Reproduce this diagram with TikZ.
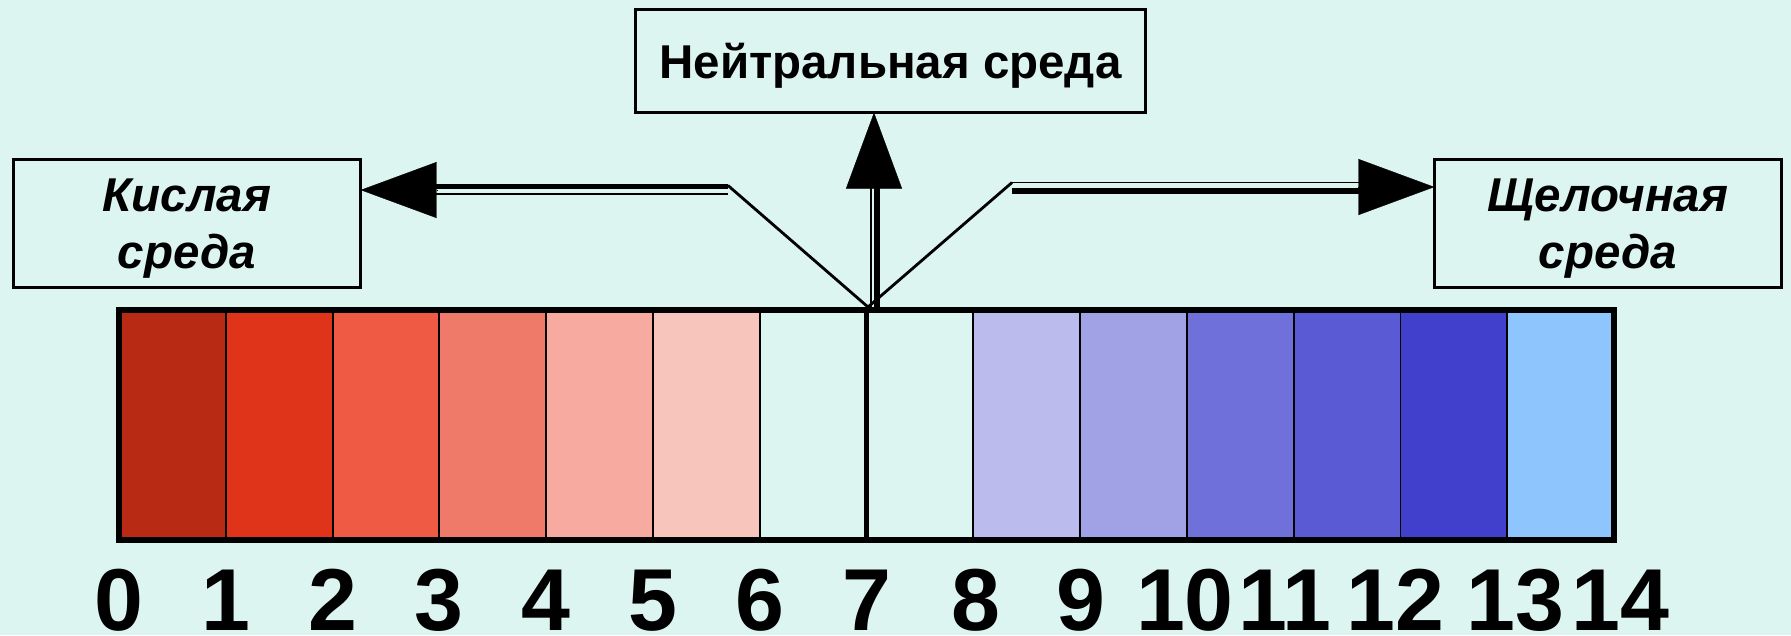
\documentclass[tikz,border=0pt]{standalone}
\usepackage{fontspec}
\setmainfont{Liberation Sans}
\usepackage{tikz}
\usetikzlibrary{positioning,arrows.meta}
\usepackage{xcolor}
\definecolor{MintBg}{RGB}{220,245,240}
\definecolor{ph0}{RGB}{185,42,20}
\definecolor{ph1}{RGB}{224,52,26}
\definecolor{ph2}{RGB}{238,90,67}
\definecolor{ph3}{RGB}{240,122,106}
\definecolor{ph4}{RGB}{246,170,160}
\definecolor{ph5}{RGB}{248,197,188}
\definecolor{ph6}{RGB}{220,245,240}
\definecolor{ph7}{RGB}{220,245,240}
\definecolor{ph8}{RGB}{187,187,238}
\definecolor{ph9}{RGB}{161,161,230}
\definecolor{ph10}{RGB}{112,112,219}
\definecolor{ph11}{RGB}{90,90,213}
\definecolor{ph12}{RGB}{64,64,205}
\definecolor{ph13}{RGB}{142,197,252}

\begin{document}
\begin{tikzpicture}[x=0.01cm,y=-0.01cm,every node/.style={inner sep=0pt,outer sep=0pt},
    envbox/.style={draw,line width=0.85pt,minimum width=3.47cm,minimum height=1.27cm,text depth=0pt,
                   align=center,font=\fontsize{13.5pt}{16.2pt}\selectfont\bfseries\itshape},
    neutbox/.style={draw,line width=0.85pt,minimum width=5.09cm,minimum height=1.03cm,text depth=0pt,
                    font=\fontsize{13.5pt}{15pt}\selectfont\bfseries},
    phnum/.style={font=\fontsize{25pt}{30pt}\selectfont\bfseries,anchor=base},
    pointer/.style={line width=0.8pt},
    thickpart/.style={line width=1.45pt},
    thinpart/.style={line width=0.45pt},
    headtip/.style={line width=0.1pt,-{Triangle[length=0.76cm,width=0.56cm]}}]
        \fill[MintBg] (0,0) rectangle (1791,635);
        \useasboundingbox (0,0) rectangle (1791,635);
        % colour scale
        \foreach \i in {0,...,13}
            \fill[ph\i] (119+\i*106.79,310) rectangle (119+\i*106.79+106.79,540);
        \foreach \i in {1,...,6,8,9,...,13}
            \draw[line width=0.55pt] (119+\i*106.79,310) -- (119+\i*106.79,540);
        \draw[line width=1.2pt] (866.5,310) -- (866.5,540);
        \draw[line width=1.45pt] (119,310) rectangle (1614,540);
        \foreach \n/\dx in {0/0,1/0,2/0,3/0,4/0,5/0,6/0,7/0,8/3,9/1,10/-2,11/-9,12/-5,13/8,14/6}
            \node[phnum] (num\n) at (119+\n*106.79+\dx,630) {\n};
        % boxes
        \node[neutbox] (neutral) at (890.5,61) {Нейтральная среда};
        \node[envbox] (acid) at (187,223.5) {Кислая\\среда};
        \node[envbox] (base) at (1608,223.5) {Щелочная\\среда};
        % connectors
        \coordinate (junction) at (868,307);
        \coordinate (leftbend) at (728,190);
        \coordinate (rightbend) at (1012,187);
        \coordinate (upbend) at (874,307);
        \coordinate (acidtip) at (leftbend -| acid.east);
        \coordinate (basetip) at (rightbend -| base.west);
        \coordinate (neuttip) at (upbend |- neutral.south);
        % to the acid box
        \draw[pointer] (junction) -- ([yshift=.045cm]leftbend);
        \draw[thickpart] ([yshift=.035cm]leftbend) -- ([xshift=.7cm,yshift=.035cm]acidtip);
        \draw[thinpart] ([yshift=-.04cm]leftbend) -- ([xshift=.7cm,yshift=-.04cm]acidtip);
        \draw[headtip] ([xshift=.76cm]acidtip) -- (acidtip);
        % to the alkaline box
        \draw[pointer] (junction) -- ([yshift=.045cm]rightbend);
        \draw[thinpart] ([yshift=.045cm]rightbend) -- ([xshift=-.7cm,yshift=.045cm]basetip);
        \draw[thickpart] ([yshift=-.04cm]rightbend) -- ([xshift=-.7cm,yshift=-.04cm]basetip);
        \draw[headtip] ([xshift=-.76cm]basetip) -- (basetip);
        % to the neutral box
        \draw[thinpart] ([xshift=-.03cm]upbend) -- ([xshift=-.03cm,yshift=-.7cm]neuttip);
        \draw[thickpart] ([xshift=.03cm]upbend) -- ([xshift=.03cm,yshift=-.7cm]neuttip);
        \draw[headtip] ([yshift=-.76cm]neuttip) -- (neuttip);
\end{tikzpicture}
\end{document}
